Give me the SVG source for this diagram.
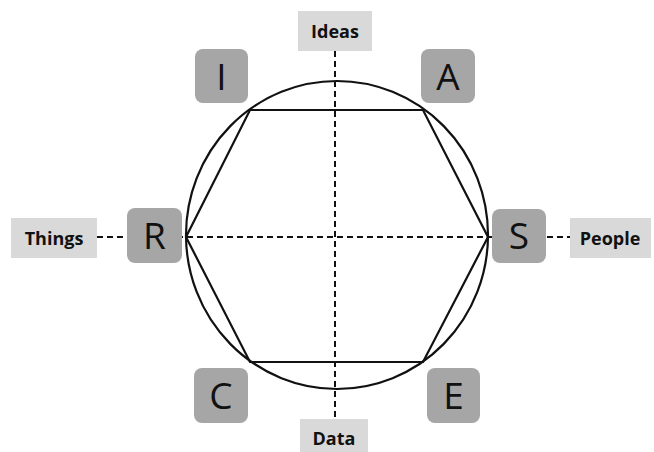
<svg xmlns="http://www.w3.org/2000/svg" width="654" height="452" viewBox="0 0 654 452">
<style>
.lbl{fill:#d9d9d9}
.lt{font-family:"Open Sans","Liberation Sans",sans-serif;font-weight:bold;font-size:18px;fill:#111;text-anchor:middle}
.box{fill:#a6a6a6}
.bt{font-family:"Open Sans","Liberation Sans",sans-serif;font-size:37px;fill:#111;text-anchor:middle}
.dash{stroke:#111;stroke-width:2;stroke-dasharray:6,4;fill:none}
.shape{stroke:#111;stroke-width:2.2;fill:none}
</style>
<rect width="654" height="452" fill="#fff"/>
<g id="connectors">
<line class="dash" x1="335" y1="51" x2="335" y2="419"/>
<line class="dash" x1="97" y1="237" x2="570" y2="237"/>
</g>
<g id="circle"><ellipse class="shape" cx="337" cy="235" rx="151" ry="154"/></g>
<g id="hexagon"><polygon class="shape" points="250,110 423,110 488,237 423,362 250,362 186,237"/></g>
<g id="ideas"><rect class="lbl" x="298" y="11" width="74" height="40"/><text class="lt" x="335" y="38">Ideas</text></g>
<g id="data"><rect class="lbl" x="300" y="419" width="68" height="40"/><text class="lt" x="334" y="445">Data</text></g>
<g id="things"><rect class="lbl" x="11" y="218" width="86" height="40"/><text class="lt" x="54" y="245">Things</text></g>
<g id="people"><rect class="lbl" x="570" y="218" width="81" height="40"/><text class="lt" x="610" y="245">People</text></g>
<g id="I"><rect class="box" x="195" y="49" width="53" height="54" rx="8"/><text class="bt" x="221.5" y="90">I</text></g>
<g id="A"><rect class="box" x="421" y="49" width="54" height="54" rx="8"/><text class="bt" x="448" y="90">A</text></g>
<g id="R"><rect class="box" x="127" y="208" width="55" height="55" rx="8"/><text class="bt" x="154.5" y="249">R</text></g>
<g id="S"><rect class="box" x="492" y="209" width="54" height="54" rx="8"/><text class="bt" x="519" y="249">S</text></g>
<g id="C"><rect class="box" x="194" y="368" width="54" height="55" rx="8"/><text class="bt" x="221" y="409">C</text></g>
<g id="E"><rect class="box" x="427" y="368" width="53" height="55" rx="8"/><text class="bt" x="453.5" y="409">E</text></g>
</svg>
